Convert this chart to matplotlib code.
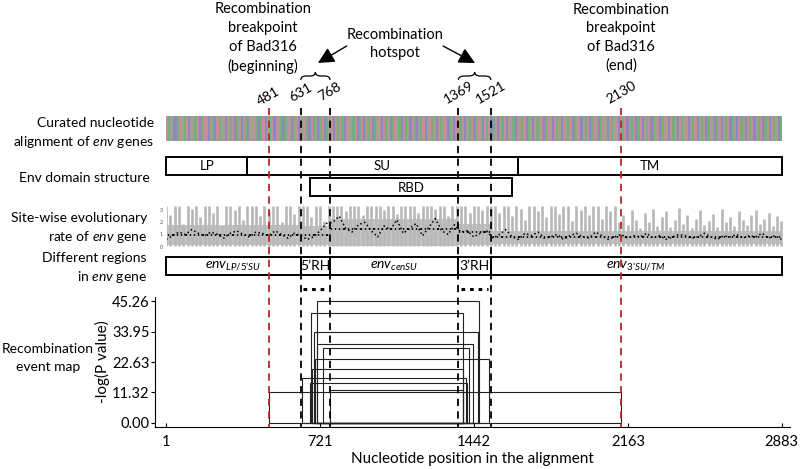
import numpy as np
import matplotlib
matplotlib.use('Agg')
import matplotlib.pyplot as plt
from matplotlib.patches import Rectangle, PathPatch
from matplotlib.path import Path

plt.rcParams['font.family'] = ['Lato', 'DejaVu Sans']
plt.rcParams['mathtext.fontset'] = 'custom'
plt.rcParams['mathtext.rm'] = 'Lato'
plt.rcParams['mathtext.it'] = 'Lato:italic'
plt.rcParams['mathtext.bf'] = 'Lato:bold'

# ---- data ----
breakpoints = [481, 2130]
hotspots = [631, 768, 1369, 1521]
pos_ticks = [1, 721, 1442, 2163, 2883]
pval_ticks = [0.00, 11.32, 22.63, 33.95, 45.26]

domain_names = ['LP', 'SU', 'TM']
domain_start = [1, 380, 1646]
domain_end = [380, 1646, 2883]
rbd_start, rbd_end = 674, 1618

region_names = [r"$\mathit{env}_{\mathit{LP/5’SU}}$", "5’RH", r"$\mathit{env}_{\mathit{cenSU}}$",
                "3’RH", r"$\mathit{env}_{\mathit{3’SU/TM}}$"]
region_edges = [1, 631, 768, 1369, 1521, 2883]
region_rate = [0.97, 0.97, 1.43, 1.18, 0.80]
band_lo = [0.12, 0.12, 0.08, 0.12, 0.2]
band_hi = [1.8, 1.7, 2.3, 1.9, 1.3]

# recombination events (start, end, -log P)
ev_start = [708, 679, 694, 706, 734, 698, 682, 638, 674, 768, 481]
ev_end = [1465, 1389, 1459, 1439, 1420, 1514, 1389, 1403, 1408, 1392, 2130]
ev_logp = [45.26, 40.9, 33.95, 29.3, 28.0, 23.8, 20.0, 16.6, 14.7, 12.2, 11.32]

# site-wise rate, sampled every 20 sites
spike_pos = np.arange(1, 2883, 20)
spike_rate = [3.3, 2.6, 3.3, 3.3, 1.9, 3.3, 3.1, 3.3, 2.4, 3.3, 3.3, 2.8, 3.3, 1.7, 3.3, 3.3,
              3.0, 3.3, 2.2, 3.3, 3.3, 3.3, 2.5, 3.3, 2.9, 3.3, 3.3, 2.0, 3.3, 3.3, 2.7, 3.3,
              3.3, 3.3, 2.4, 3.3, 3.3, 2.1, 3.3,
              3.3, 3.3, 3.3, 2.9, 3.3, 3.3, 3.3, 2.6, 3.3, 3.3, 3.3, 3.3, 3.0, 3.3, 3.3,
              2.7, 3.3, 3.3, 3.3, 3.3, 2.8, 3.3, 3.3, 3.3, 3.1, 3.3, 3.3, 2.5, 3.3, 3.3,
              3.3, 3.3, 2.8, 3.3, 3.3, 3.0, 3.3, 3.3,
              3.3, 2.8, 3.3, 3.3, 2.5, 3.3, 3.1, 2.2, 3.3, 3.3, 2.9, 3.3, 2.4, 3.3, 3.3,
              2.7, 3.3, 3.3, 2.1, 3.3, 3.0, 3.3, 2.6, 3.3, 3.3, 2.3, 3.3, 2.9, 3.3, 2.0,
              2.6, 1.8, 3.0, 2.2, 1.5, 2.8, 2.0, 3.1, 1.7, 2.4, 2.9, 1.6, 2.2, 3.2, 1.9,
              2.6, 1.5, 2.3, 3.0, 1.8, 2.1, 2.7, 1.6, 3.1, 2.0, 2.4, 1.7, 2.9, 2.2, 1.8,
              2.6, 3.0, 1.9, 2.3, 2.8, 1.7, 2.5, 2.1]
# sliding-window average, every 30 sites
win_pos = np.arange(1, 2883, 30)
win_rate = [0.6, 0.9, 1.2, 1.0, 1.4, 1.1, 0.9, 1.2, 1.0, 0.7, 1.1, 1.3, 1.0, 0.8, 1.2, 1.1,
            0.9, 1.3, 1.0, 0.7, 1.1,
            0.9, 0.6, 0.8, 1.3, 1.9,
            2.0, 2.5, 1.5, 1.2, 1.8, 2.0, 1.3, 0.8, 1.7, 1.4, 2.2, 1.1, 1.5, 1.9, 0.9,
            1.6, 2.3, 1.3, 1.0, 1.8,
            1.2, 1.3, 0.8, 1.1, 1.3,
            0.7, 1.0, 1.4, 0.8, 0.6, 1.1, 0.9, 1.2, 0.7, 0.8, 1.0, 0.6, 0.9, 1.1, 0.8,
            0.7, 1.2, 0.9, 0.6, 0.8, 1.0, 0.7, 0.9, 0.8, 1.1, 0.7, 0.9, 0.6, 0.8, 1.0,
            0.9, 0.7, 0.8, 1.1, 0.8, 0.6, 0.9, 0.8, 1.0, 0.7, 0.9, 0.8, 1.1, 0.7, 0.9, 0.6]

aln_seq = ("GATCCAGTAGCTTAGCAGGCTACGATGCTAGCATCGACTTGACAGCTAGCGTACAGTCAGCTTGACGATCAG"
           "CATGCTAGACGTTAGCAGCTAGCATGCGATCAGTACGATCGACTAGCTGATCGATGCATCGTAGCTAGCAG"
           "TCGATCAGCTAGCTGACGTAGCATCGATGCAGTCGATCGTAGCATGCTAGCAGTCAGTCGATGCTAGCTAG"
           "CAGCTAGCATGCAGTCGATCGATGCTAGCTAGCAGTCAGCTAGCATCGATCGAGCTAGCATCGATCA")
aln_colors = {'A': '#78ad7c', 'C': '#8e87c2', 'G': '#c48e9a', 'T': '#a2a28c'}

# ---- layout (pixels) ----
W, H = 800, 469
PXU = (474 - 320) / 721.0
X0 = 1 - 166.2 / PXU

fig = plt.figure(figsize=(8, 4.69), dpi=100)


def add_ax(l, t, r, b):
    a = fig.add_axes([l / W, 1 - b / H, (r - l) / W, (b - t) / H])
    a.set_xlim(X0 + l / PXU, X0 + r / PXU)
    return a


# recombination event map
ax = add_ax(155, 285, 790, 427)
ax.set_ylim(-1.6, 51.4)
for s, e, h in zip(ev_start, ev_end, ev_logp):
    ax.add_patch(Rectangle((s, 0), e - s, h, fill=False, ec='#222222', lw=0.8))
ax.spines['top'].set_visible(False)
ax.spines['right'].set_visible(False)
ax.spines['left'].set_bounds(-1.6, 47)
ax.set_xticks(pos_ticks)
ax.set_yticks(pval_ticks)
ax.set_yticklabels(['%.2f' % v for v in pval_ticks])
ax.tick_params(axis='x', direction='in', length=3, labelsize=10.5, pad=6)
ax.tick_params(axis='y', direction='out', length=3, labelsize=10.5, pad=1)
ax.set_ylabel('-log(P value)', fontsize=11)
ax.yaxis.set_label_coords(-0.071, 0.46)
ax.set_xlabel('Nucleotide position in the alignment', fontsize=11, labelpad=2)
ax.patch.set_alpha(0)

# site-wise rate panel
ar = add_ax(167, 205, 783, 249)
ar.set_ylim(-0.19, 3.42)
ar.fill_between(region_edges, band_lo + [band_lo[-1]], band_hi + [band_hi[-1]],
                step='post', color='#c2c2c2', lw=0)
ar.vlines(spike_pos, 0.05, spike_rate, color='#b8b8b8', lw=1.9)
ar.plot(win_pos, win_rate, color='black', ls=':', lw=1.1)
ar.stairs(region_rate, region_edges, baseline=None, color='black', lw=1.3)
for sp in ar.spines.values():
    sp.set_visible(False)
ar.set_xticks([])
ar.set_yticks([0, 1, 2, 3])
ar.tick_params(axis='y', length=0, labelsize=4, labelcolor='#555555', pad=3)
ar.patch.set_alpha(0)

# overlay in pixel rows
ov = add_ax(0, 0, W, H)
ov.set_ylim(H, 0)
ov.axis('off')
ov.patch.set_alpha(0)

strip = np.array([[matplotlib.colors.to_rgb(aln_colors[c]) for c in aln_seq]])
ov.imshow(strip, extent=(1, 2883, 141, 116), aspect='auto', interpolation='nearest', zorder=1)
ov.set_xlim(X0, X0 + W / PXU)
ov.set_ylim(H, 0)

for n, s, e in zip(domain_names, domain_start, domain_end):
    ov.add_patch(Rectangle((s, 157), e - s, 18, fill=False, ec='black', lw=1.4, zorder=2))
    ov.text((s + e) / 2, 166.5, n, ha='center', va='center', fontsize=9.5)
ov.add_patch(Rectangle((rbd_start, 178.5), rbd_end - rbd_start, 18, fill=False, ec='black', lw=1.4, zorder=2))
ov.text((rbd_start + rbd_end) / 2, 188, 'RBD', ha='center', va='center', fontsize=9.5)

for i, n in enumerate(region_names):
    s, e = region_edges[i], region_edges[i + 1]
    ov.add_patch(Rectangle((s, 257.5), e - s, 18, fill=False, ec='black', lw=1.4, zorder=2))
    ov.text((s + e) / 2, 266.5, n, ha='center', va='center', fontsize=10)

ov.vlines(breakpoints, 108, 427, colors='#b5262b', linestyles=(0, (4, 3)), lw=1.3, zorder=4)
ov.vlines(hotspots, 108, 427, colors='black', linestyles=(0, (4, 3)), lw=1.3, zorder=4)
for a, b in [(hotspots[0], hotspots[1]), (hotspots[2], hotspots[3])]:
    ov.plot([a + 12, b - 12], [289, 289], color='black', lw=2.2, ls=(0, (1.2, 1.6)), zorder=4)

# rotated position labels
for p in breakpoints + hotspots:
    ov.text(p, 96 if p == 481 else 92, str(p), rotation=30, ha='center', va='center', fontsize=10)


def brace(a, b):
    m = (a + b) / 2
    q = (b - a) * 0.18
    verts = [(a, 80), (a, 76), (a + q, 76), (m - q, 76), (m, 76), (m, 72), (m, 76), (m + q, 76),
             (b - q, 76), (b, 76), (b, 80)]
    codes = [Path.MOVETO, Path.CURVE3, Path.CURVE3, Path.LINETO, Path.CURVE3, Path.CURVE3,
             Path.CURVE3, Path.CURVE3, Path.LINETO, Path.CURVE3, Path.CURVE3]
    ov.add_patch(PathPatch(Path(verts, codes), fill=False, ec='black', lw=0.9))


brace(hotspots[0], hotspots[1])
brace(hotspots[2], hotspots[3])

ov.text(455, 38, 'Recombination\nbreakpoint\nof Bad316\n(beginning)', ha='center', va='center',
        fontsize=10.5, linespacing=1.42)
ov.text(2130, 38, 'Recombination\nbreakpoint\nof Bad316\n(end)', ha='center', va='center',
        fontsize=10.5, linespacing=1.42)
ov.text(1072, 44, 'Recombination\nhotspot', ha='center', va='center', fontsize=10.5, linespacing=1.42)
arw = dict(arrowstyle='-|>,head_length=0.7,head_width=0.35', color='black', lw=1.0,
           mutation_scale=14, shrinkA=0, shrinkB=0)
ov.annotate('', xy=((hotspots[0] + hotspots[1]) / 2 + 12, 63), xytext=(846, 46), arrowprops=arw)
ov.annotate('', xy=((hotspots[2] + hotspots[3]) / 2 + 2, 63), xytext=(1297, 46), arrowprops=arw)

# left-hand row labels (right aligned)
labels = [(154, 123, 'Curated nucleotide'), (154, 142, r'alignment of $\mathit{env}$ genes'),
          (150, 178, 'Env domain structure'), (147, 218, 'Site-wise evolutionary'),
          (147, 237, r'rate of $\mathit{env}$ gene'), (147, 258, 'Different regions'),
          (147, 277, r'in $\mathit{env}$ gene')]
for x, y, t in labels:
    fig.text(x / W, 1 - y / H, t, ha='right', va='center', fontsize=10)
fig.text(48 / W, 1 - 349 / H, 'Recombination', ha='center', va='center', fontsize=10)
fig.text(48 / W, 1 - 367 / H, 'event map', ha='center', va='center', fontsize=10)

fig.savefig('out.png', dpi=100)
